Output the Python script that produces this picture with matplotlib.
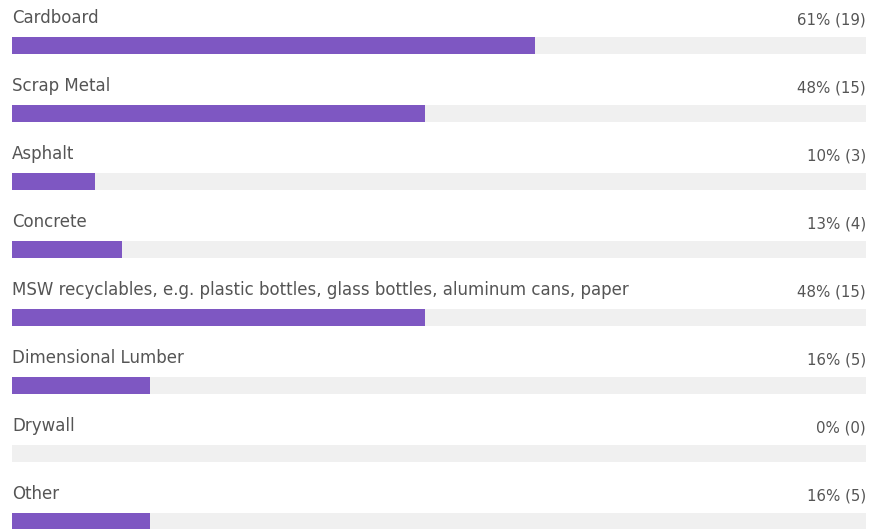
import numpy as np
import matplotlib.pyplot as plt

categories = ["Cardboard", "Scrap Metal", "Asphalt", "Concrete",
              "MSW recyclables, e.g. plastic bottles, glass bottles, aluminum cans, paper",
              "Dimensional Lumber", "Drywall", "Other"]
percents = [61, 48, 10, 13, 48, 16, 0, 16]
counts = [19, 15, 3, 4, 15, 5, 0, 5]
total = 31

purple = "#7e57c2"
track = "#f0f0f0"
txt = "#555555"

W, H = 869, 529
fig = plt.figure(figsize=(W / 100, H / 100), dpi=100)
# axes spans the bar track, from x=12px to 866px
ax = fig.add_axes([12 / W, 0, 854 / W, 1])

rows = np.arange(len(categories))
frac = np.array(counts) / total

ax.barh(rows, np.ones(len(rows)), height=0.25, color=track, zorder=1)
ax.barh(rows, frac, height=0.25, color=purple, zorder=2)

ax.set_xlim(0, 1)
ax.set_ylim((H - 45.5) / 68, -45.5 / 68)
ax.axis("off")

for i, (c, p, n) in enumerate(zip(categories, percents, counts)):
    ax.text(0, i - 0.40, c, ha="left", va="center", fontsize=12, family="DejaVu Sans",
            color=txt, clip_on=False)
    ax.text(1.0, i - 0.38, f"{p}% ({n})", ha="right", va="center", fontsize=10.8,
            family="DejaVu Sans", color=txt, clip_on=False)

fig.savefig("out.png", dpi=100)
